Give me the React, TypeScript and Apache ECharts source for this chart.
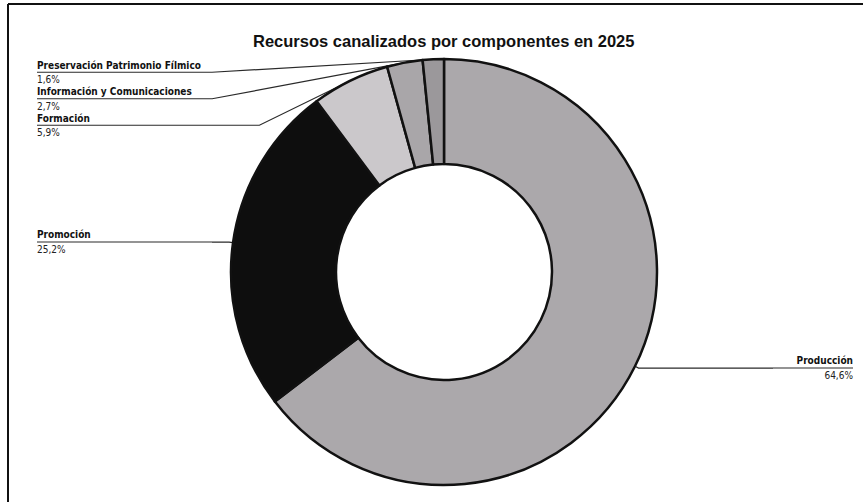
import React, { useEffect, useRef } from "react";
import * as echarts from "echarts";

const chartTitle = "Recursos canalizados por componentes en 2025";
const categories = [
  "Producción",
  "Promoción",
  "Formación",
  "Información y Comunicaciones",
  "Preservación Patrimonio Fílmico",
];
const shares = [64.6, 25.2, 5.9, 2.7, 1.6];
const sliceColors = ["#aba8ab", "#0e0e0e", "#cbc8cb", "#a9a6a9", "#9b989b"];

const fmt = (v: number) => v.toFixed(1).replace(".", ",") + "%";

export default function App() {
  const ref = useRef<HTMLDivElement>(null);
  useEffect(() => {
    const chart = echarts.init(ref.current!, null, { renderer: "svg" });
    const data = categories.map((name, i) => ({
      name,
      value: shares[i],
      itemStyle: { color: sliceColors[i] },
      label: { edgeDistance: i === 0 ? 10 : 37 },
    }));
    chart.setOption({
      animation: false,
      backgroundColor: "#ffffff",
      title: {
        text: chartTitle,
        left: 253,
        top: 32,
        padding: 0,
        textStyle: {
          fontFamily: "Liberation Sans, Arial, sans-serif",
          fontWeight: "bold",
          fontSize: 16.5,
          color: "#111",
        },
      },
      graphic: [
        {
          type: "line",
          shape: { x1: 8, y1: 4, x2: 863, y2: 4 },
          style: { stroke: "#111", lineWidth: 2 },
          silent: true,
        },
        {
          type: "line",
          shape: { x1: 8, y1: 4, x2: 8, y2: 502 },
          style: { stroke: "#111", lineWidth: 2 },
          silent: true,
        },
      ],
      series: [
        {
          type: "pie",
          top: 59,
          center: [444, 213],
          radius: [108, 213],
          startAngle: 90,
          clockwise: true,
          avoidLabelOverlap: true,
          itemStyle: { borderColor: "#111", borderWidth: 2.5 },
          emphasis: { disabled: true },
          label: {
            show: true,
            position: "outside",
            alignTo: "edge",
            distanceToLabelLine: 0,
            formatter: (p: any) =>
              `{n|${p.name}}\n{${p.dataIndex === 0 ? "uR" : "uL"}| }\n{v|${fmt(p.value)}}`,
            rich: {
              n: {
                fontFamily: "DejaVu Sans Condensed, DejaVu Sans, sans-serif",
                fontWeight: "bold",
                fontSize: 10,
                lineHeight: 13.5,
                color: "#111",
              },
              v: {
                fontFamily: "DejaVu Sans Condensed, DejaVu Sans, sans-serif",
                fontSize: 10,
                lineHeight: 13.5,
                color: "#222",
              },
              uL: { width: 175, height: 1, lineHeight: 1, fontSize: 1, backgroundColor: "#2a2a2a" },
              uR: { width: 80, height: 1, lineHeight: 1, fontSize: 1, backgroundColor: "#2a2a2a" },
            },
          },
          labelLine: {
            show: true,
            length: 4,
            length2: 10,
            lineStyle: { color: "#2a2a2a", width: 1.2 },
          },
          data,
        },
      ],
    });
    return () => chart.dispose();
  }, []);
  return (
    <div
      ref={ref}
      style={{ position: "absolute", left: 0, top: 0, width: 863, height: 502 }}
    />
  );
}
